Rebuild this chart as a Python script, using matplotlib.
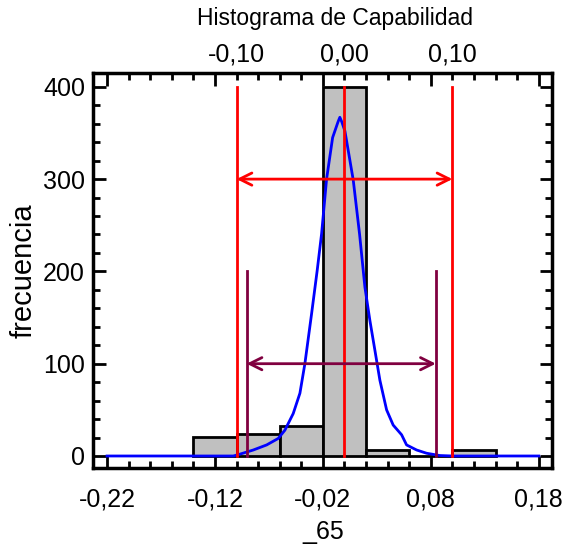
import matplotlib
matplotlib.use("Agg")
from matplotlib import pyplot as plt
from matplotlib.ticker import MultipleLocator, FixedLocator, FuncFormatter

plt.rcParams['font.family'] = ['Liberation Sans', 'DejaVu Sans']

# histogram
bin_edges = [-0.14, -0.10, -0.06, -0.02, 0.02, 0.06, 0.10, 0.14]
counts = [21, 24, 32, 400, 7, 0, 7]

# fitted curve
curve_x = [-0.22, -0.103, -0.0969, -0.0845, -0.0721, -0.0614, -0.0552, -0.0475,
           -0.0413, -0.0367, -0.0305, -0.0253, -0.0212, -0.0166, -0.0110,
           -0.0060, -0.0043, -0.0025, 0.0004, 0.0081, 0.0140, 0.0189, 0.0235,
           0.0281, 0.0328, 0.0390, 0.0451, 0.0529, 0.0575, 0.0668, 0.0760,
           0.0883, 0.10, 0.18]
curve_y = [0, 0, 2, 6.5, 12, 19, 28, 46, 68, 100, 154, 201, 241, 300, 345,
           362, 367, 362, 352, 299, 240, 183, 147, 115, 82, 50, 33.5, 23, 12,
           6.5, 3, 0.5, 0, 0]

# spec limits and natural limits
spec_lsl, spec_nom, spec_usl = -0.10, 0.00, 0.10
nat_low, nat_high = -0.0907, 0.0846

bottom_ticks = [-0.22, -0.12, -0.02, 0.08, 0.18]
top_ticks = [-0.10, 0.00, 0.10]

red = "#ff0000"
purple = "#800040"

fig = plt.figure(figsize=(5.69, 5.48), dpi=100)
ax = fig.add_axes([0.164, 0.146, 0.807, 0.72])

widths = [bin_edges[i + 1] - bin_edges[i] for i in range(len(counts))]
ax.bar(bin_edges[:-1], counts, width=widths, align="edge",
       color="#c0c0c0", edgecolor="black", linewidth=2, zorder=2)

ax.plot(curve_x, curve_y, color="#0000ff", linewidth=2, zorder=3)

# red spec lines
for xv in (spec_lsl, spec_nom, spec_usl):
    ax.plot([xv, xv], [0, 400], color=red, linewidth=2, zorder=4)
ax.annotate("", xy=(spec_lsl, 300), xytext=(spec_usl, 300),
            arrowprops=dict(arrowstyle="<->", color=red, lw=2,
                            mutation_scale=22, shrinkA=0, shrinkB=0), zorder=4)

# purple natural limits
for xv in (nat_low, nat_high):
    ax.plot([xv, xv], [0, 200], color=purple, linewidth=2, zorder=4)
ax.annotate("", xy=(nat_low, 100), xytext=(nat_high, 100),
            arrowprops=dict(arrowstyle="<->", color=purple, lw=2,
                            mutation_scale=22, shrinkA=0, shrinkB=0), zorder=4)

ax.set_xlim(-0.2327, 0.1927)
ax.set_ylim(-13, 414.5)

comma = FuncFormatter(lambda v, p: f"{v:.2f}".replace(".", ","))
ax.xaxis.set_major_locator(FixedLocator(bottom_ticks))
ax.xaxis.set_minor_locator(MultipleLocator(0.02))
ax.xaxis.set_major_formatter(comma)
ax.yaxis.set_major_locator(MultipleLocator(100))
ax.yaxis.set_minor_locator(MultipleLocator(20))

ax.tick_params(which="both", direction="in", top=True, right=True,
               labelsize=18, width=2)
ax.tick_params(which="major", length=9, pad=14)
ax.tick_params(which="minor", length=5)
ax.tick_params(axis="y", which="major", pad=6)

for sp in ax.spines.values():
    sp.set_linewidth(2.5)

sec = ax.secondary_xaxis("top")
sec.xaxis.set_major_locator(FixedLocator(top_ticks))
sec.xaxis.set_minor_locator(FixedLocator([]))
sec.xaxis.set_major_formatter(comma)
sec.tick_params(length=0, labelsize=18, pad=5)
sec.spines["top"].set_visible(False)

ax.set_xlabel("_65", fontsize=18, labelpad=6)
ax.set_ylabel("frecuencia", fontsize=21, labelpad=4)
fig.text(0.589, 0.967, "Histograma de Capabilidad", ha="center", va="center",
         fontsize=16.5)

fig.savefig("out.png", dpi=100)
